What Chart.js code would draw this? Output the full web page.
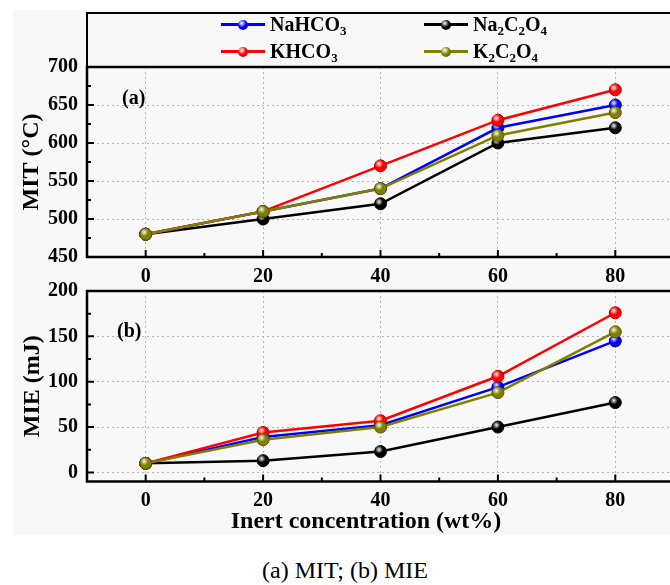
<!DOCTYPE html>
<html>
<head>
<meta charset="utf-8">
<script src="https://cdn.jsdelivr.net/npm/chart.js@4.4.1/dist/chart.umd.min.js"></script>
<style>
  html, body { margin:0; padding:0; width:670px; height:585px; overflow:hidden; background:#fff; }
  .abs { position:absolute; }
  .serif { font-family:'Liberation Serif','Times New Roman',serif; }
  #bg { left:13px; top:10px; width:660px; height:525px; background:#f8f8f8; }
  #legend { left:85.75px; top:11.5px; width:700px; height:56px; border-top:2.5px solid #000; border-left:2.5px solid #000; box-sizing:border-box; }
  .li { position:absolute; height:24px; display:flex; align-items:center; font-weight:bold; font-size:20px; color:#000; white-space:nowrap; }
  .li sub { font-size:13px; vertical-align:-4px; line-height:0; }
  .mk { position:relative; width:44px; height:12px; margin-right:5px; }
  .mk .ln { position:absolute; left:0; top:4.75px; width:44px; height:2.5px; }
  .mk .dot { position:absolute; left:17px; top:1px; width:10px; height:10px; border-radius:50%; }
  .lbl { font-weight:bold; font-size:20px; line-height:24px; }
</style>
</head>
<body>
<div id="bg" class="abs"></div>
<canvas id="c1" class="abs" style="left:0;top:0" width="681" height="290"></canvas>
<canvas id="c2" class="abs" style="left:0;top:258px" width="681" height="280"></canvas>
<div id="legend" class="abs"></div>
<div id="legendItems"></div>
<div class="abs serif lbl" style="left:122px;top:85px;">(a)</div>
<div class="abs serif lbl" style="left:117px;top:318px;">(b)</div>
<div class="abs serif" style="left:166px;width:400px;top:506px;text-align:center;font-weight:bold;font-size:24px;line-height:28px;">Inert concentration (wt%)</div>
<div class="abs serif" style="left:145px;width:400px;top:556px;text-align:center;font-size:24px;line-height:28px;">(a) MIT; (b) MIE</div>
<script>
// ---------- data ----------
const xValues = [0, 20, 40, 60, 80];
const xTicks = [0, 20, 40, 60, 80];
const mitTicks = [450, 500, 550, 600, 650, 700];
const mieTicks = [0, 50, 100, 150, 200];

const seriesNames = ['NaHCO<sub>3</sub>', 'Na<sub>2</sub>C<sub>2</sub>O<sub>4</sub>', 'KHCO<sub>3</sub>', 'K<sub>2</sub>C<sub>2</sub>O<sub>4</sub>'];
const seriesLabels = ['NaHCO₃', 'Na₂C₂O₄', 'KHCO₃', 'K₂C₂O₄'];
const seriesColors = ['#0000ff', '#000000', '#ff0000', '#808000'];
const seriesEdge = ['#0000a0', '#000000', '#b00000', '#555500'];

const mitNaHCO3  = [480, 510, 540, 620, 650];
const mitNa2C2O4 = [480, 500, 520, 600, 620];
const mitKHCO3   = [480, 510, 570, 630, 670];
const mitK2C2O4  = [480, 510, 540, 610, 640];

const mieNaHCO3  = [10, 39, 52, 94, 145];
const mieNa2C2O4 = [10, 13, 23, 50, 77];
const mieKHCO3   = [10, 44, 57, 106, 176];
const mieK2C2O4  = [10, 36, 50, 88, 155];

const FONT = "'Liberation Serif','Times New Roman',serif";

// ---------- legend (HTML) ----------
const legendPos = [[221, 12.5], [424, 12.5], [221, 39.5], [424, 39.5]];
const li = document.getElementById('legendItems');
seriesNames.forEach((n, i) => {
  const d = document.createElement('div');
  d.className = 'li serif';
  d.style.left = legendPos[i][0] + 'px';
  d.style.top = legendPos[i][1] + 'px';
  const c = seriesColors[i];
  d.innerHTML = `<div class="mk"><div class="ln" style="background:${c}"></div><div class="dot" style="background:radial-gradient(circle at 38% 32%, #fff 0, ${c} 45%, ${seriesEdge[i]} 100%)"></div></div><span>${n}</span>`;
  li.appendChild(d);
});

// ---------- plugins ----------
const spherePlugin = {
  id: 'sphere',
  afterDatasetDraw(chart, args) {
    const ctx = chart.ctx;
    ctx.save();
    args.meta.data.forEach(p => {
      const g = ctx.createRadialGradient(p.x - 1.5, p.y - 2, 0, p.x - 1.5, p.y - 2, 4);
      g.addColorStop(0, 'rgba(255,255,255,0.95)');
      g.addColorStop(1, 'rgba(255,255,255,0)');
      ctx.fillStyle = g;
      ctx.beginPath();
      ctx.arc(p.x - 1.5, p.y - 2, 4, 0, Math.PI * 2);
      ctx.fill();
    });
    ctx.restore();
  }
};

const framePlugin = {
  id: 'frame',
  afterDraw(chart) {
    const {ctx, chartArea: a, scales: {x, y}} = chart;
    const yt = chart.options.plugins.frame.yTicks;
    ctx.save();
    ctx.strokeStyle = '#000';
    ctx.lineWidth = 2;
    ctx.beginPath();
    xTicks.forEach(v => {
      const px = x.getPixelForValue(v);
      ctx.moveTo(px, a.bottom); ctx.lineTo(px, a.bottom - 7);
      const pm = x.getPixelForValue(v + 10);
      ctx.moveTo(pm, a.bottom); ctx.lineTo(pm, a.bottom - 4);
    });
    yt.forEach((v, i) => {
      const py = y.getPixelForValue(v);
      ctx.moveTo(a.left, py); ctx.lineTo(a.left + 7, py);
      if (i < yt.length - 1) {
        const pm = y.getPixelForValue((v + yt[i + 1]) / 2);
        ctx.moveTo(a.left, pm); ctx.lineTo(a.left + 4, pm);
      }
    });
    ctx.stroke();
    ctx.lineWidth = 2.5;
    ctx.beginPath();
    ctx.moveTo(a.right + 5, a.top); ctx.lineTo(a.left, a.top);
    ctx.lineTo(a.left, a.bottom); ctx.lineTo(a.right + 5, a.bottom);
    ctx.stroke();
    ctx.restore();
  }
};

function makeDatasets(arrs) {
  const order = [3, 2, 1, 0];
  return arrs.map((arr, i) => ({
    label: seriesLabels[i],
    data: xValues.map((xv, j) => ({x: xv, y: arr[j]})),
    borderColor: seriesColors[i],
    backgroundColor: seriesColors[i],
    pointBackgroundColor: seriesColors[i],
    pointBorderColor: seriesEdge[i],
    pointBorderWidth: 1,
    pointRadius: 6,
    borderWidth: 2.5,
    tension: 0,
    order: order[i],
    clip: false
  }));
}

function makeChart(id, arrs, ymin, ymax, yTicks, title, padTop, xH, xPad, titlePad) {
  return new Chart(document.getElementById(id), {
    type: 'line',
    data: { datasets: makeDatasets(arrs) },
    plugins: [spherePlugin, framePlugin],
    options: {
      responsive: false,
      animation: false,
      layout: { padding: { top: padTop, left: 0, right: 0, bottom: 0 } },
      plugins: { legend: { display: false }, tooltip: { enabled: false }, frame: { yTicks } },
      scales: {
        x: {
          type: 'linear', min: -10, max: 90,
          afterBuildTicks: s => { s.ticks = xTicks.map(v => ({value: v})); },
          afterFit: s => { s.height = xH; },
          grid: { color: '#b4b4b4', lineWidth: 1, drawTicks: false },
          border: { display: false, dash: [2, 3] },
          ticks: { padding: xPad, color: '#000', font: { family: FONT, size: 20, weight: 'bold' } }
        },
        y: {
          min: ymin, max: ymax,
          afterBuildTicks: s => { s.ticks = yTicks.map(v => ({value: v})); },
          afterFit: s => { s.width = 87; },
          grid: { color: '#b4b4b4', lineWidth: 1, drawTicks: false },
          border: { display: false, dash: [2, 3] },
          ticks: { padding: 9, color: '#000', font: { family: FONT, size: 20, weight: 'bold' } },
          title: { display: true, text: title, color: '#000', padding: { top: titlePad, bottom: 0 },
                   font: { family: FONT, size: 24, weight: 'bold' } }
        }
      }
    }
  });
}

makeChart('c1', [mitNaHCO3, mitNa2C2O4, mitKHCO3, mitK2C2O4], 450, 700, mitTicks, 'MIT (°C)', 67, 33, 8, 17);
makeChart('c2', [mieNaHCO3, mieNa2C2O4, mieKHCO3, mieK2C2O4], -10, 200, mieTicks, 'MIE (mJ)', 33, 56.5, 7, 18);
</script>
</body>
</html>
